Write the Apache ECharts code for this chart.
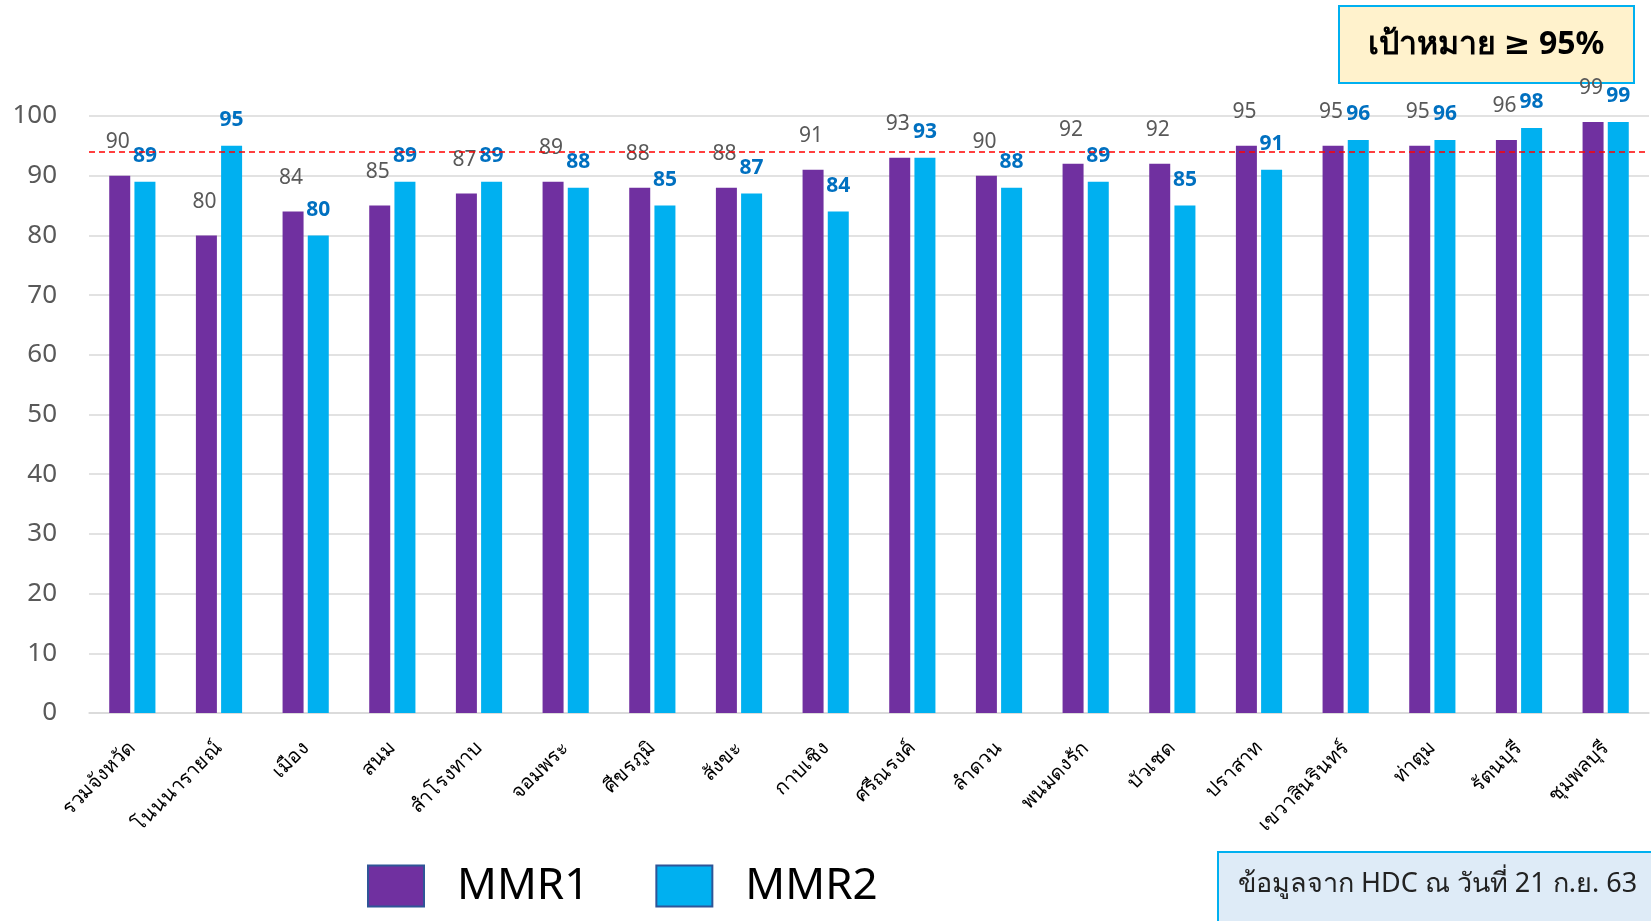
<!DOCTYPE html>
<html>
<head>
<meta charset="utf-8">
<script src="https://cdn.jsdelivr.net/npm/echarts@6/dist/echarts.min.js"></script>
<style>
  html, body { margin: 0; padding: 0; background: #fff; }
  #main { width: 1651px; height: 921px; }
</style>
</head>
<body>
<div id="main"></div>
<script>
// อำเภอ
var categories = ['รวมจังหวัด', 'โนนนารายณ์', 'เมือง', 'สนม', 'สำโรงทาบ', 'จอมพระ', 'ศีขรภูมิ', 'สังขะ', 'กาบเชิง',
  'ศรีณรงค์', 'ลำดวน', 'พนมดงรัก', 'บัวเชด', 'ปราสาท', 'เขวาสินรินทร์', 'ท่าตูม', 'รัตนบุรี', 'ชุมพลบุรี']
var mmr1 = [90, 80, 84, 85, 87, 89, 88, 88, 91, 93, 90, 92, 92, 95, 95, 95, 96, 99]
var mmr2 = [89, 95, 80, 89, 89, 88, 85, 87, 84, 93, 88, 89, 85, 91, 96, 96, 98, 99]
var yTicks = [0, 10, 20, 30, 40, 50, 60, 70, 80, 90, 100]
var targetLine = 94

var font = 'Tahoma, "Noto Sans", "DejaVu Sans", sans-serif'
var chart = echarts.init(document.getElementById('main'))

chart.setOption({
  textStyle: { fontFamily: font },
  animation: false,
  grid: {
    left: 89,
    right: 2,
    top: 116,
    bottom: 208
  },
  legend: {
    left: 362,
    top: 859,
    itemWidth: 56,
    itemHeight: 41,
    itemGap: 66,
    icon: 'rect',
    itemStyle: { borderColor: '#2F5597', borderWidth: 2 },
    textStyle: {
      fontSize: 44,
      color: '#000',
      padding: [0, 0, 0, 28]
    },
    data: ['MMR1', 'MMR2']
  },
  xAxis: {
    type: 'category',
    data: categories,
    axisTick: { show: false },
    axisLine: { lineStyle: { color: '#D9D9D9', width: 1.5 } },
    axisLabel: {
      rotate: 45,
      interval: 0,
      margin: 32,
      fontSize: 20,
      color: '#000'
    }
  },
  yAxis: {
    type: 'value',
    min: yTicks[0],
    max: yTicks[yTicks.length - 1],
    interval: 10,
    axisLine: { show: false },
    axisTick: { show: false },
    axisLabel: {
      fontSize: 26,
      color: '#595959',
      margin: 32
    },
    splitLine: { lineStyle: { color: '#D9D9D9', width: 1.5 } }
  },
  series: [{
    name: 'MMR1',
    type: 'bar',
    barWidth: 21,
    barGap: '20%',
    itemStyle: { color: '#7030A0' },
    label: {
      show: true,
      position: 'top',
      offset: [-2, -18],
      fontSize: 21,
      color: '#595959'
    },
    markLine: {
      silent: true,
      symbol: ['none', 'none'],
      label: { show: false },
      lineStyle: { color: '#FF0000', type: [6, 4], width: 1.5 },
      data: [{ yAxis: targetLine }]
    },
    data: mmr1
  }, {
    name: 'MMR2',
    type: 'bar',
    barWidth: 21,
    itemStyle: { color: '#00B0F0' },
    label: {
      show: true,
      position: 'top',
      offset: [0, -10],
      fontSize: 21,
      fontWeight: 'bold',
      color: '#0070C0'
    },
    data: mmr2
  }],
  graphic: [{
    type: 'group',
    left: 1338,
    top: 5,
    children: [{
      type: 'rect',
      shape: { width: 295, height: 77 },
      style: { fill: '#FFF2CC', stroke: '#00B0F0', lineWidth: 2 }
    }, {
      type: 'text',
      x: 147,
      y: 39,
      style: {
        text: 'เป้าหมาย ≥ 95%',
        fontSize: 32,
        fontWeight: 'bold',
        fontFamily: font,
        fill: '#000',
        align: 'center',
        verticalAlign: 'middle'
      }
    }]
  }, {
    type: 'group',
    left: 1217,
    top: 851,
    children: [{
      type: 'rect',
      shape: { width: 440, height: 80 },
      style: { fill: '#DEEBF7', stroke: '#00B0F0', lineWidth: 2 }
    }, {
      type: 'text',
      x: 20,
      y: 32,
      style: {
        text: 'ข้อมูลจาก HDC ณ วันที่ 21 ก.ย. 63',
        fontSize: 27,
        fontFamily: font,
        fill: '#222',
        verticalAlign: 'middle'
      }
    }]
  }]
})
</script>
</body>
</html>
